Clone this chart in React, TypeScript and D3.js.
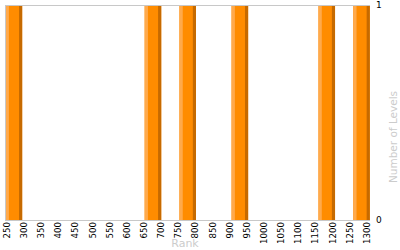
import React from "react";
import * as d3 from "d3";

const binStarts = [250, 650, 750, 900, 1150, 1250];
const binCounts = [1, 1, 1, 1, 1, 1];
const binWidth = 50;
const xTickLabels = [250, 300, 350, 400, 450, 500, 550, 600, 650, 700, 750, 800, 850, 900, 950, 1000, 1050, 1100, 1150, 1200, 1250, 1300];
const yTickLabels = [0, 1];

const W = 400;
const H = 250;
const L = 5, R = 370, T = 5, B = 220;

export default function App() {
  const x = d3.scaleLinear().domain([250, 1300]).range([L, R]);
  const xLab = d3.scaleLinear().domain([250, 1300]).range([6.7, 366.7]);
  const y = d3.scaleLinear().domain([0, 1]).range([B, T]);
  const font = "Verdana, 'DejaVu Sans', sans-serif";

  return (
    <svg width={W} height={H} style={{ position: "absolute", left: 0, top: 0 }}>
      <rect x={0} y={0} width={W} height={H} fill="#fff" />
      {binStarts.map((s, i) => {
        const x0 = x(s) + 0.6;
        const x1 = x(s + binWidth) - 0.2;
        const w = x1 - x0;
        const yTop = y(binCounts[i]);
        const h = y(0) - yTop;
        const lw = w * 0.2;
        const dw = w * 0.19;
        return (
          <g key={i}>
            <rect x={x0} y={yTop} width={w} height={h} fill="#ff8c00" />
            <rect x={x0} y={yTop} width={lw} height={h} fill="#ffaa4c" />
            <rect x={x1 - dw} y={yTop} width={dw} height={h} fill="#c66a00" />
          </g>
        );
      })}
      <line x1={L} x2={R} y1={T + 0.5} y2={T + 0.5} stroke="#c8c8c8" strokeWidth={1} />
      <line x1={L + 0.5} x2={L + 0.5} y1={T} y2={B} stroke="#c8c8c8" strokeWidth={1} />
      <line x1={L} x2={R} y1={B + 0.5} y2={B + 0.5} stroke="#c8c8c8" strokeWidth={1} />
      {xTickLabels.map((v) => (
        <text
          key={v}
          transform={`translate(${xLab(v)},222) rotate(-90)`}
          textAnchor="end"
          dy="0.36em"
          fontSize={8.6}
          fontFamily={font}
          fill="#000"
        >
          {v}
        </text>
      ))}
      {yTickLabels.map((v) => (
        <text key={v} x={376} y={y(v)} dy="0.36em" fontSize={9} fontFamily={font} fill="#000">
          {v}
        </text>
      ))}
      <text x={185} y={247} textAnchor="middle" fontSize={11} fontFamily={font} fill="#cccccc">
        Rank
      </text>
      <text
        transform={`translate(393,137) rotate(-90)`}
        textAnchor="middle"
        dy="0.36em"
        fontSize={10.5}
        fontFamily={font}
        fill="#cccccc"
      >
        Number of Levels
      </text>
    </svg>
  );
}
